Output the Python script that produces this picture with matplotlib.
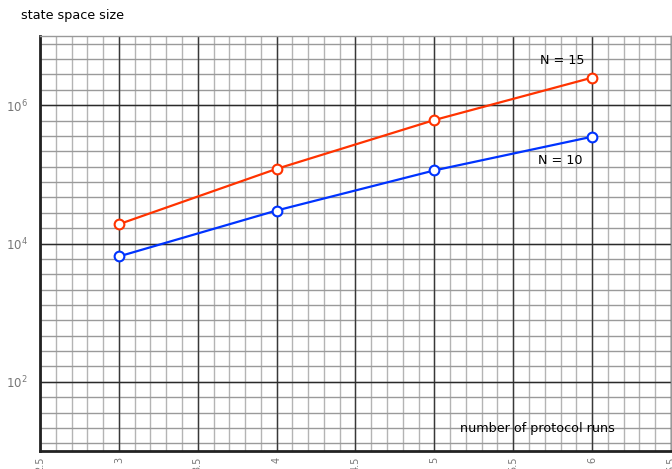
import numpy as np
import matplotlib
matplotlib.use('Agg')
import matplotlib.pyplot as plt

runs = [3, 4, 5, 6]
n15 = [1.9e4, 1.2e5, 6.1e5, 2.5e6]
n10 = [6.5e3, 3.0e4, 1.14e5, 3.5e5]
xticks = [2.5, 3, 3.5, 4, 4.5, 5, 5.5, 6, 6.5]
xticklabels = ["2.5", "3", "3.5", "4", "4.5", "5", "5.5", "6", "6.5"]
yticks = [1e2, 1e4, 1e6]
yticklabels = [r"$10^2$", r"$10^4$", r"$10^6$"]

fig = plt.figure(figsize=(6.72, 4.69), dpi=100)
ax = fig.add_axes([0.0595, 0.0384, 0.939, 0.8848])

ax.set_xlim(2.5, 6.5)
ax.set_yscale('log')
ax.set_ylim(1e1, 1e7)

# grid: minor every 0.1 in x, every 2/9 decade in y
xminor = np.arange(2.5, 6.51, 0.1)
yminor = 10 ** (2 + 2 * np.arange(-4, 23) / 9.0)
for xv in xminor:
    ax.axvline(xv, color='#b4b4b4', lw=1, zorder=0)
for yv in yminor:
    ax.axhline(yv, color='#9a9a9a', lw=1, zorder=0)
for xv in xticks:
    ax.axvline(xv, color='#383838', lw=1, zorder=0.5)
for yv in yticks:
    ax.axhline(yv, color='#2a2a2a', lw=1, zorder=0.5)

ax.plot(runs, n15, color='#ff3300', lw=1.6, marker='o', ms=7,
        mfc='white', mec='#ff3300', mew=1.5, zorder=3)
ax.plot(runs, n10, color='#0033ff', lw=1.6, marker='o', ms=7,
        mfc='white', mec='#0033ff', mew=1.5, zorder=3)

ax.text(5.668, 4.5e6, "N = 15", fontsize=9.2, va='center', ha='left')
ax.text(5.656, 1.58e5, "N = 10", fontsize=9.2, va='center', ha='left')
ax.text(5.16, 21, "number of protocol runs", fontsize=9.2, va='center', ha='left')

ax.set_xticks(xticks)
ax.set_xticklabels(xticklabels, rotation=90, color='#777777', fontsize=7)
ax.set_yticks(yticks)
ax.set_yticklabels(yticklabels, color='#777777', fontsize=8.5)
ax.minorticks_off()
ax.tick_params(axis='x', length=0, pad=4)
ax.tick_params(axis='y', length=0, pad=9)

for side in ['left', 'bottom']:
    ax.spines[side].set_color('#222222')
    ax.spines[side].set_linewidth(2)
for side in ['top', 'right']:
    ax.spines[side].set_color('#999999')
    ax.spines[side].set_linewidth(1)

fig.text(0.031, 0.966, "state space size", fontsize=9.2, va='center', ha='left')

fig.savefig('out.png', dpi=100)
